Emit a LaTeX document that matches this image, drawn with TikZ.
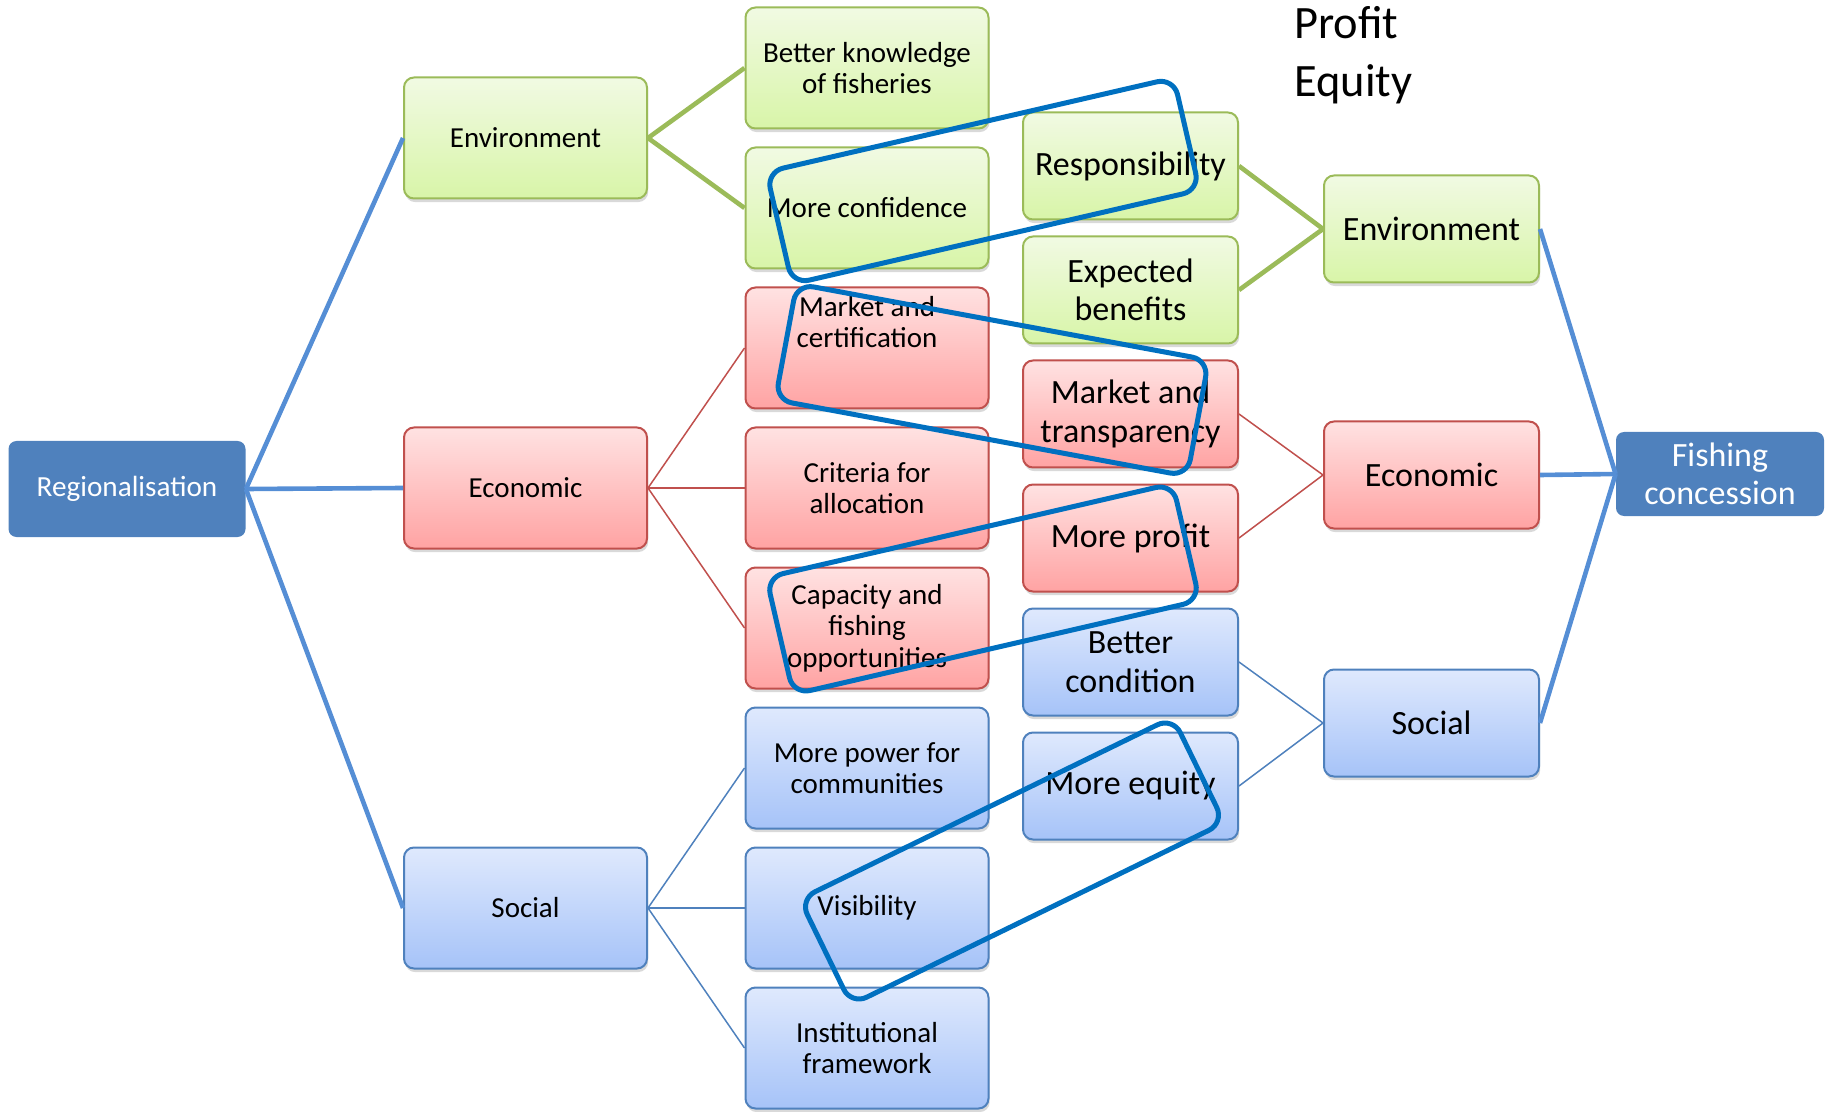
\documentclass[tikz,border=0pt]{standalone}
\usepackage{fontspec}
\setmainfont{Carlito}
\usetikzlibrary{shadows}

\definecolor{dunkelblau}{HTML}{4F81BD}
\definecolor{linienblau}{HTML}{558ED5}
\definecolor{markierung}{HTML}{0070C0}
\definecolor{rahmengruen}{HTML}{9BBB59}
\definecolor{gruenoben}{HTML}{F1FAE3}
\definecolor{gruenunten}{HTML}{D8F5A8}
\definecolor{rahmenrot}{HTML}{C0504D}
\definecolor{rotoben}{HTML}{FFE2E2}
\definecolor{rotunten}{HTML}{FFA3A3}
\definecolor{blauoben}{HTML}{DFE9FD}
\definecolor{blauunten}{HTML}{A6C3F8}

\tikzset{
    kasten/.style={rectangle, rounded corners=5pt, align=center, inner sep=2pt, line width=1pt,
        drop shadow={shadow xshift=0.6pt, shadow yshift=-1.8pt, opacity=0.3}},
    klein/.style={kasten, minimum width=121.5pt, minimum height=60.5pt, font=\fontsize{14.5}{15.75}\selectfont},
    gross/.style={kasten, minimum width=107.5pt, minimum height=53.5pt, font=\fontsize{17}{19.3}\selectfont},
    gruen/.style={draw=rahmengruen, top color=gruenoben, bottom color=gruenunten},
    rot/.style={draw=rahmenrot, top color=rotoben, bottom color=rotunten},
    blau/.style={draw=dunkelblau, top color=blauoben, bottom color=blauunten},
    haupt/.style={rectangle, rounded corners=4pt, fill=dunkelblau, text=white, align=center, inner sep=2pt},
    dickblau/.style={draw=linienblau, line width=2.3pt},
    dickgruen/.style={draw=rahmengruen, line width=2.3pt},
    duennrot/.style={draw=rahmenrot, line width=0.75pt},
    duennblau/.style={draw=dunkelblau, line width=0.75pt},
    rahmen/.style={draw=markierung, line width=2.5pt, rounded corners=8.5pt}
}

\begin{document}
\begin{tikzpicture}[x=0.5pt, y=-0.5pt]
        \useasboundingbox (0,0) rectangle (1831,1112);
        \def\spalteA{525.5}
        \def\spalteB{867}
        \def\spalteC{1130.5}
        \def\spalteD{1431.5}

        % Start und Ziel
        \node [haupt, minimum width=118.5pt, minimum height=48pt, font=\fontsize{14.6}{16}\selectfont] (regio) at (127,489) {Regionalisation};
        \node [haupt, minimum width=104pt, minimum height=42pt, font=\fontsize{17}{18.7}\selectfont] (fischerei) at (1720,474) {Fishing\\concession};

        % erste Spalte
        \node [klein, gruen] (umwelt) at (\spalteA,138) {Environment};
        \node [klein, rot] (wirtschaft) at (\spalteA,488) {Economic};
        \node [klein, blau] (soziales) at (\spalteA,908) {Social};

        % zweite Spalte
        \node [klein, gruen] (wissen) at (\spalteB,68) {Better knowledge\\of fisheries};
        \node [klein, gruen] (vertrauen) at (\spalteB,208) {More confidence};
        \node [klein, rot, text depth=26pt] (zertifizierung) at (\spalteB,348) {Market and\\certification};
        \node [klein, rot] (kriterien) at (\spalteB,488) {Criteria for\\allocation};
        \node [klein, rot] (kapazitaet) at (\spalteB,628) {Capacity and\\fishing\\opportunities};
        \node [klein, blau] (macht) at (\spalteB,768) {More power for\\communities};
        \node [klein, blau] (sichtbarkeit) at (\spalteB,908) {Visibility};
        \node [klein, blau] (rahmenwerk) at (\spalteB,1048) {Institutional\\framework};

        % dritte Spalte
        \node [gross, gruen] (verantwortung) at (\spalteC,166) {Responsibility};
        \node [gross, gruen] (nutzen) at (\spalteC,290) {Expected\\benefits};
        \node [gross, rot] (transparenz) at (\spalteC,414) {Market and\\transparency};
        \node [gross, rot] (gewinn) at (\spalteC,538) {More profit};
        \node [gross, blau] (bedingung) at (\spalteC,662) {Better\\condition};
        \node [gross, blau] (gerechtigkeit) at (\spalteC,786) {More equity};

        % vierte Spalte
        \node [gross, gruen] (umweltB) at (\spalteD,229) {Environment};
        \node [gross, rot] (wirtschaftB) at (\spalteD,475) {Economic};
        \node [gross, blau] (sozialesB) at (\spalteD,723) {Social};

        \node [anchor=west, align=left, inner sep=0pt, font=\fontsize{23.2}{29}\selectfont] (ziele) at (1294,55) {Profit\\Equity};

        % Verbindungen links
        \foreach \ziel in {umwelt, wirtschaft, soziales}
            \draw [dickblau] (regio.east) -- (\ziel.west);
        \foreach \ziel in {wissen, vertrauen}
            \draw [dickgruen] (umwelt.east) -- (\ziel.west);
        \foreach \ziel in {zertifizierung, kriterien, kapazitaet}
            \draw [duennrot] (wirtschaft.east) -- (\ziel.west);
        \foreach \ziel in {macht, sichtbarkeit, rahmenwerk}
            \draw [duennblau] (soziales.east) -- (\ziel.west);

        % Verbindungen rechts
        \foreach \quelle in {verantwortung, nutzen}
            \draw [dickgruen] (\quelle.east) -- (umweltB.west);
        \foreach \quelle in {transparenz, gewinn}
            \draw [duennrot] (\quelle.east) -- (wirtschaftB.west);
        \foreach \quelle in {bedingung, gerechtigkeit}
            \draw [duennblau] (\quelle.east) -- (sozialesB.west);
        \foreach \quelle in {umweltB, wirtschaftB, sozialesB}
            \draw [dickblau] (\quelle.east) -- (fischerei.west);

        % Markierungen
        \node [rahmen, rotate=13, minimum width=209pt, minimum height=57.5pt] (markeA) at (983,181) {};
        \node [rahmen, rotate=-10.5, minimum width=209.5pt, minimum height=59pt] (markeB) at (992,380) {};
        \node [rahmen, rotate=13, minimum width=208.5pt, minimum height=60pt] (markeC) at (983,589) {};
        \node [rahmen, rotate=26, minimum width=207.5pt, minimum height=58.7pt] (markeD) at (1012,861) {};
\end{tikzpicture}
\end{document}
